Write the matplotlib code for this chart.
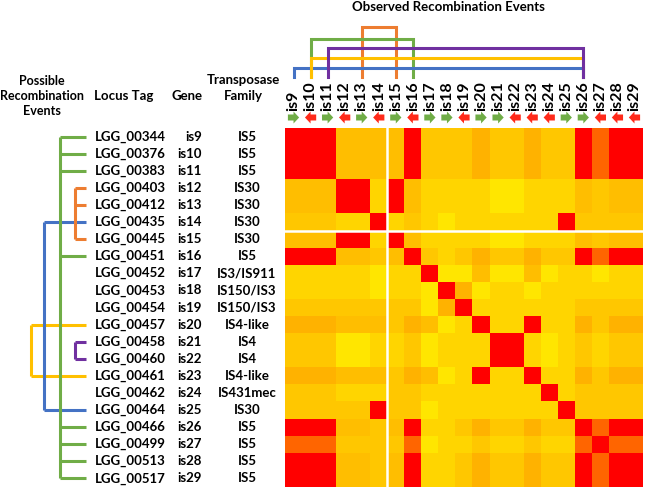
import numpy as np
import matplotlib.pyplot as plt
from matplotlib.colors import LinearSegmentedColormap
from matplotlib.patches import FancyArrow

plt.rcParams['font.family'] = ['Lato', 'DejaVu Sans']
plt.rcParams['font.weight'] = 'bold'

genes = ['is9', 'is10', 'is11', 'is12', 'is13', 'is14', 'is15', 'is16', 'is17', 'is18', 'is19',
         'is20', 'is21', 'is22', 'is23', 'is24', 'is25', 'is26', 'is27', 'is28', 'is29']
locus = ['LGG_00344', 'LGG_00376', 'LGG_00383', 'LGG_00403', 'LGG_00412', 'LGG_00435', 'LGG_00445',
         'LGG_00451', 'LGG_00452', 'LGG_00453', 'LGG_00454', 'LGG_00457', 'LGG_00458', 'LGG_00460',
         'LGG_00461', 'LGG_00462', 'LGG_00464', 'LGG_00466', 'LGG_00499', 'LGG_00513', 'LGG_00517']
family = ['IS5', 'IS5', 'IS5', 'IS30', 'IS30', 'IS30', 'IS30', 'IS5', 'IS3/IS911', 'IS150/IS3',
          'IS150/IS3', 'IS4-like', 'IS4', 'IS4', 'IS4-like', 'IS431mec', 'IS30', 'IS5', 'IS5', 'IS5', 'IS5']
strand = '+-+-+-+-++-++---++---'

# similarity levels, one letter per cell (R=red ... Y=pale yellow)
levels = {'R': 1.0, 'r': 0.85, 'o': 0.52, 'c': 0.45, 'm': 0.38, 'y': 0.28, 'Y': 0.12}
rows = ['RRRccccRmmmommommRrRR',
        'RRRccccRmmmommommRrRR',
        'RRRccccRmmmommommRrRR',
        'cccRRyRcyyyyYYyyycmcc',
        'cccRRyRcyyyyYYyyycmcc',
        'mmmyyRymyYyyyyyyRmmmm',
        'cccRRyRcyyyyYYyyycmcc',
        'RRRccmcRmymommommRrRR',
        'yyyyyYyyRYYcYYcYyyYyy',
        'yyyyyYyyYRoYyyYyyyyyy',
        'mmmmmmmmYoRyyyyyymmmm',
        'ooocccmocYyRyyRyyomoo',
        'mmmYYyymYyyyRRyYymymm',
        'mmmYYyymYyyyRRyYymymm',
        'ooocccmocYyRyyRyyomoo',
        'mmmyyymmyyyyyyyRymmmm',
        'mmmmmRmmYyyyyyyyRmmmm',
        'RRRccmcRyymommommRrRR',
        'rrrmmmmrYyymyymyyrRrr',
        'RRRccmcRyymommommRrRR',
        'RRRccmcRyymommommRrRR']
M = np.array([[levels[ch] for ch in r] for r in rows])

# possible events (left) and observed events (top): colour, member rows
possible = [('#FFC000', [11, 14]), ('#4472C4', [5, 16]), ('#7030A0', [12, 13]),
            ('#ED7D31', [3, 4, 6]), ('#70AD47', [0, 1, 2, 7, 17, 18, 19, 20])]
possible_x = [31, 44, 75, 75, 60]
observed = [('#ED7D31', [4, 6]), ('#70AD47', [1, 7]), ('#4472C4', [0, 17]),
            ('#FFC000', [1, 17]), ('#7030A0', [2, 17])]
observed_y = [27, 39, 68, 58, 48]

cmap = LinearSegmentedColormap.from_list('yr', [(0, '#FFF000'), (0.12, '#FFE600'), (0.28, '#FFD500'),
                                                (0.38, '#FFC800'), (0.45, '#FFBF00'), (0.52, '#FFB300'),
                                                (0.85, '#FF6600'), (1.0, '#FF0000')])

W, H = 650, 488
fig = plt.figure(figsize=(6.5, 4.88), dpi=100)
n = len(genes)
fs = 9.5

bg = fig.add_axes([0, 0, 1, 1])
bg.set_xlim(0, W)
bg.set_ylim(H, 0)
bg.axis('off')

ax = fig.add_axes([285 / W, 1 - 487 / H, 358 / W, 359 / H])
ax.imshow(M, cmap=cmap, vmin=0, vmax=1, aspect='auto', interpolation='nearest', extent=(0, n, n, 0))
ax.axvline(6, color='white', lw=1.8)
ax.axhline(6, color='white', lw=1.8)
ax.axis('off')

left = fig.add_axes([0, 1 - 487 / H, 285 / W, 359 / H])
left.set_xlim(0, 285)
left.set_ylim(n, 0)
left.axis('off')
for i in range(n):
    y = i + 0.5
    left.text(95, y, locus[i], ha='left', va='center', fontsize=fs)
    left.text(202, y, genes[i], ha='right', va='center', fontsize=fs)
    left.text(247, y, family[i], ha='center', va='center', fontsize=fs)
for (col, members), xv in zip(possible, possible_x):
    ys = [m + 0.5 for m in members]
    left.plot([xv, xv], [min(ys), max(ys)], color=col, lw=2.2, solid_capstyle='butt')
    for y in ys:
        left.plot([xv, 86], [y, y], color=col, lw=2.2, solid_capstyle='butt')

top = fig.add_axes([285 / W, 1 - 128 / H, 358 / W, 128 / H])
top.set_xlim(0, n)
top.set_ylim(128, 0)
top.axis('off')
for j in range(n):
    x = j + 0.5
    top.text(x, 111, genes[j], rotation=90, ha='center', va='bottom', fontsize=11.5)
    d = 1 if strand[j] == '+' else -1
    colr = '#70AD47' if d > 0 else '#FF2A1A'
    top.add_patch(FancyArrow(x - 0.33 * d, 117.5, 0.66 * d, 0, width=6, head_width=12,
                             head_length=0.33, length_includes_head=True, color=colr, lw=0))
for (col, (a, b)), yh in zip(observed, observed_y):
    top.plot([a + 0.5, a + 0.5, b + 0.5, b + 0.5], [77, yh, yh, 77], color=col, lw=2.2,
             solid_joinstyle='miter')

bg.text(448, 7, 'Observed Recombination Events', ha='center', va='center', fontsize=fs)
bg.text(42, 96, 'Possible\nRecombination\nEvents', ha='center', va='center', fontsize=9, linespacing=1.3)
bg.text(124, 96, 'Locus Tag', ha='center', va='center', fontsize=fs)
bg.text(202, 96, 'Gene', ha='right', va='center', fontsize=fs)
bg.text(243, 88, 'Transposase\nFamily', ha='center', va='center', fontsize=fs, linespacing=1.3)

fig.savefig('out.png', dpi=100)
